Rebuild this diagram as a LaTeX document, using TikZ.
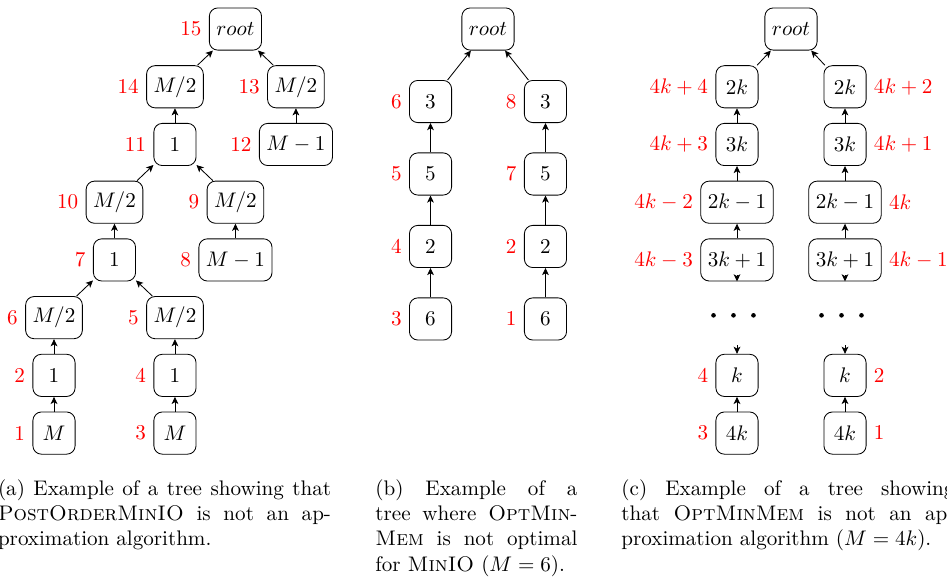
\documentclass[tikz,border=0pt]{standalone}
\usetikzlibrary{positioning,arrows.meta}
\begin{document}
\begin{tikzpicture}[
    >={Stealth[length=3.4pt,width=3.2pt,inset=0.9pt]},
    task/.style={draw,rounded corners,minimum width=20pt,minimum height=20pt},
    every label/.style={red,draw=none,minimum width=0pt,minimum height=0pt},
    subcap/.style={anchor=north west,inner sep=0pt,text width=#1,align=justify}
  ]
  \useasboundingbox (0,0) rectangle (15.783,9.717);

  % (a) PostOrderMinIO
  \begin{scope}[shift={(0.9,9.233)},x=1.008cm,y=0.962cm]
    \begin{scope}[every node/.style={task}]
      \node[label=left:15] (a15) at (3,0)  {$root$};
      \node[label=left:14] (a14) at (2,-1) {$M/2$};
      \node[label=left:13] (a13) at (4,-1) {$M/2$};
      \node[label=left:11] (a11) at (2,-2) {$1$};
      \node[label=left:12] (a12) at (4,-2) {$M-1$};
      \node[label=left:10] (a10) at (1,-3) {$M/2$};
      \node[label=left:9]  (a9)  at (3,-3) {$M/2$};
      \node[label=left:7]  (a7)  at (1,-4) {$1$};
      \node[label=left:8]  (a8)  at (3,-4) {$M-1$};
      \node[label=left:6]  (a6)  at (0,-5) {$M/2$};
      \node[label=left:5]  (a5)  at (2,-5) {$M/2$};
      \node[label=left:2]  (a2)  at (0,-6) {$1$};
      \node[label=left:4]  (a4)  at (2,-6) {$1$};
      \node[label=left:1]  (a1)  at (0,-7) {$M$};
      \node[label=left:3]  (a3)  at (2,-7) {$M$};
    \end{scope}

    \foreach \c/\p in {14/15,13/15,11/14,12/13,10/11,9/11,7/10,8/9,6/7,5/7,2/6,4/5,1/2,3/4}
      \draw[->] (a\c) -- (a\p);
  \end{scope}

  % (b) OptMinMem vs MinIO
  \begin{scope}[shift={(8.133,9.233)},x=0.958cm,y=1.208cm]
    \begin{scope}[every node/.style={task}]
      \node (broot) at (0,0) {$root$};
      \node[label=left:6] (b6) at (-1,-1) {$3$};
      \node[label=left:5] (b5) at (-1,-2) {$5$};
      \node[label=left:4] (b4) at (-1,-3) {$2$};
      \node[label=left:3] (b3) at (-1,-4) {$6$};
      \node[label=left:8] (b8) at (1,-1)  {$3$};
      \node[label=left:7] (b7) at (1,-2)  {$5$};
      \node[label=left:2] (b2) at (1,-3)  {$2$};
      \node[label=left:1] (b1) at (1,-4)  {$6$};
    \end{scope}

    \foreach \c/\p in {6/root,8/root,5/6,4/5,3/4,7/8,2/7,1/2}
      \draw[->] (b\c) -- (b\p);
  \end{scope}

  % (c) OptMinMem, M = 4k
  \begin{scope}[shift={(13.183,9.233)},x=0.9cm,y=0.962cm]
    \begin{scope}[every node/.style={task}]
      \node (croot) at (0,0) {$root$};
      \node[label=left:$4k+4$]   (cl1) at (-1,-1) {$2k$};
      \node[label=left:$4k+3$]   (cl2) at (-1,-2) {$3k$};
      \node[label=left:$4k-2$]   (cl3) at (-1,-3) {$2k-1$};
      \node[label=left:$4k-3$]   (cl4) at (-1,-4) {$3k+1$};
      \node[label=left:$4$]      (cl6) at (-1,-6) {$k$};
      \node[label=left:$3$]      (cl7) at (-1,-7) {$4k$};
      \node[label=right:$4k+2$]  (cr1) at (1,-1)  {$2k$};
      \node[label=right:$4k+1$]  (cr2) at (1,-2)  {$3k$};
      \node[label=right:$4k$]    (cr3) at (1,-3)  {$2k-1$};
      \node[label=right:$4k-1$]  (cr4) at (1,-4)  {$3k+1$};
      \node[label=right:$2$]     (cr6) at (1,-6)  {$k$};
      \node[label=right:$1$]     (cr7) at (1,-7)  {$4k$};
    \end{scope}

    \foreach \s/\dx in {l/-1,r/1} {
      \draw[->] (c\s1) -- (croot);
      \draw[->] (c\s2) -- (c\s1);
      \draw[->] (c\s3) -- (c\s2);
      \draw[->] (c\s4) -- (c\s3);
      \draw[->] (c\s7) -- (c\s6);
      % chains cut by the dots
      \coordinate (c\s4in) at ([yshift=3pt]c\s4.south);
      \coordinate (c\s6in) at ([yshift=4pt]c\s6.north);
      \draw[->] (c\s4in) -- (c\s4.south);
      \draw[->] (c\s6in) -- (c\s6.north);
      \foreach \d in {-0.37,0,0.37}
        \fill (\dx-0.065+\d,-4.96) circle (1.1pt);
    }
  \end{scope}

  % subcaptions
  \node[subcap=5.55cm] (capa) at (-0.04,1.733)
    {(a) Example of a tree showing that\linebreak
     \textsc{PostOrderMinIO} is not an ap-\linebreak
     proximation algorithm.};
  \node[subcap=3.367cm] (capb) at (6.25,1.733)
    {(b) Example of a\linebreak
     tree where \textsc{OptMin}-\linebreak
     \textsc{Mem} is not optimal\linebreak
     for \textsc{MinIO} ($M=6$).};
  \node[subcap=5.55cm] (capc) at (10.35,1.733)
    {(c) Example of a tree showing\linebreak
     that \textsc{OptMinMem} is not an ap-\linebreak
     proximation algorithm ($M=4k$).};
\end{tikzpicture}
\end{document}
